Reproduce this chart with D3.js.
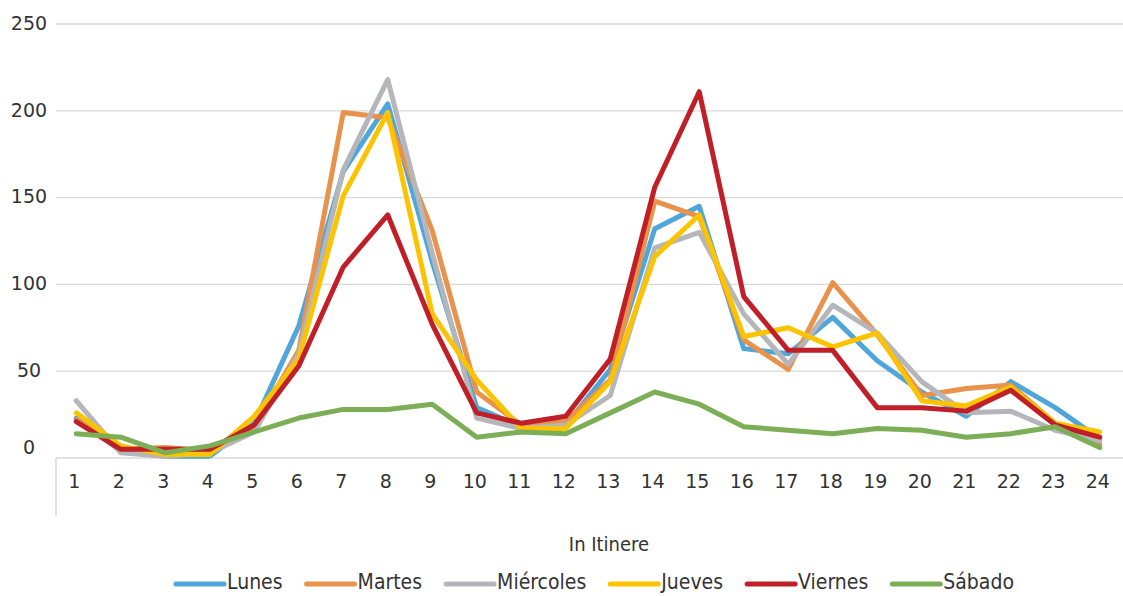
<!DOCTYPE html>
<html>
<head>
<meta charset="utf-8">
<script src="https://cdn.jsdelivr.net/npm/d3@7"></script>
<style>
  body { margin: 0; background: #fff; }
  svg { display: block; }
</style>
</head>
<body>
<div id="container"></div>
<script>
/* DATA */
const hours = d3.range(1, 25).map(String)
const yTicks = [0, 50, 100, 150, 200, 250]
const seriesNames = ["Lunes", "Martes", "Miércoles", "Jueves", "Viernes", "Sábado"]
const seriesColors = ["#4fa6da", "#e8924c", "#b5b6b9", "#fcc300", "#c01f27", "#7cae56"]

const lunes     = [23, 4, 1, 1, 20, 76, 165, 204, 113, 29, 18, 19, 51, 132, 145, 63, 60, 81, 56, 38, 24, 44, 29, 11]
const martes    = [22, 5, 6, 4, 18, 62, 199, 196, 131, 38, 19, 21, 45, 148, 139, 68, 51, 101, 71, 36, 40, 42, 20, 8]
const miercoles = [33, 3, 1, 3, 15, 60, 166, 218, 118, 23, 17, 19, 36, 121, 130, 83, 54, 88, 72, 44, 26, 27, 16, 10]
const jueves    = [26, 7, 2, 2, 24, 57, 151, 199, 83, 45, 17, 17, 44, 116, 140, 70, 75, 64, 72, 33, 30, 41, 20, 15]
const viernes   = [21, 5, 5, 5, 19, 53, 110, 140, 77, 26, 20, 24, 57, 156, 211, 93, 62, 62, 29, 29, 27, 39, 19, 12]
const sabado    = [14, 12, 3, 7, 15, 23, 28, 28, 31, 12, 15, 14, 26, 38, 31, 18, 16, 14, 17, 16, 12, 14, 18, 6]

const seriesValues = [lunes, martes, miercoles, jueves, viernes, sabado]

/* CONSTANTS */
const width = 1123, height = 596
const margin = { top: 24, left: 56, right: 0, bottom: 138 }
const axisTitle = "In Itinere"

const svg = d3.select("#container")
  .append("svg")
  .attr("width", width)
  .attr("height", height)

const xScale = d3.scaleBand()
  .domain(hours)
  .range([54, 1122])

const yScale = d3.scaleLinear()
  .domain([0, 250])
  .range([458, 24])

// gridlines
svg.append("g")
  .selectAll("line")
  .data(yTicks.filter(d => d > 0))
  .join("line")
  .attr("x1", margin.left)
  .attr("x2", width)
  .attr("y1", d => yScale(d))
  .attr("y2", d => yScale(d))
  .attr("stroke", "#d9d9d9")
  .attr("stroke-width", 1.3)

// y labels
svg.append("g")
  .selectAll("text")
  .data(yTicks)
  .join("text")
  .attr("x", 29)
  .attr("y", d => yScale(d) - (d === 0 ? 11 : 1))
  .attr("dy", "0.36em")
  .attr("text-anchor", "middle")
  .attr("font-family", "DejaVu Sans")
  .attr("font-size", "19px")
  .attr("fill", "#333")
  .text(d => d)

// x axis line + left box edge
svg.append("line")
  .attr("x1", margin.left).attr("x2", width)
  .attr("y1", yScale(0)).attr("y2", yScale(0))
  .attr("stroke", "#d9d9d9").attr("stroke-width", 1.5)
svg.append("line")
  .attr("x1", margin.left).attr("x2", margin.left)
  .attr("y1", yScale(0)).attr("y2", 516)
  .attr("stroke", "#d9d9d9").attr("stroke-width", 1.5)

// x labels
svg.append("g")
  .selectAll("text")
  .data(hours)
  .join("text")
  .attr("x", d => xScale(d) + xScale.bandwidth() / 2 - 2)
  .attr("y", 481)
  .attr("dy", "0.36em")
  .attr("text-anchor", "middle")
  .attr("font-family", "DejaVu Sans")
  .attr("font-size", "19px")
  .attr("fill", "#333")
  .text(d => d)

// axis title
svg.append("text")
  .attr("x", 609)
  .attr("y", 544)
  .attr("dy", "0.36em")
  .attr("text-anchor", "middle")
  .attr("font-family", "DejaVu Sans Condensed, DejaVu Sans")
  .attr("font-stretch", "condensed")
  .attr("font-size", "20px")
  .attr("fill", "#333")
  .text(axisTitle)

// lines
const line = d3.line()
  .x((d, i) => xScale(hours[i]) + xScale.bandwidth() / 2)
  .y(d => yScale(d))

svg.append("g")
  .selectAll("path")
  .data(seriesValues)
  .join("path")
  .attr("d", d => line(d))
  .attr("fill", "none")
  .attr("stroke", (d, i) => seriesColors[i])
  .attr("stroke-width", 5)
  .attr("stroke-linejoin", "round")
  .attr("stroke-linecap", "round")

// legend
const legend = svg.append("g")
let lx = 176
seriesNames.forEach((name, i) => {
  legend.append("line")
    .attr("x1", lx).attr("x2", lx + 48)
    .attr("y1", 584).attr("y2", 584)
    .attr("stroke", seriesColors[i])
    .attr("stroke-width", 5)
    .attr("stroke-linecap", "round")
  const t = legend.append("text")
    .attr("x", lx + 51)
    .attr("y", 581)
    .attr("dy", "0.36em")
    .attr("font-family", "DejaVu Sans Condensed, DejaVu Sans")
    .attr("font-stretch", "condensed")
    .attr("font-size", "21px")
    .attr("fill", "#333")
    .text(name)
  lx += 51 + t.node().getComputedTextLength() + 24
})
</script>
</body>
</html>
